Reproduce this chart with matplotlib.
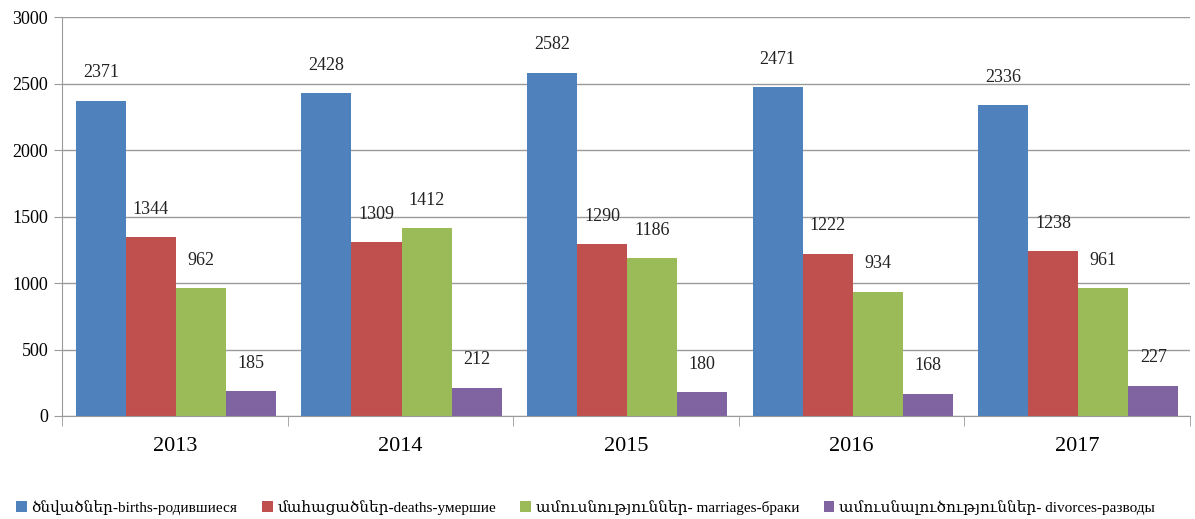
import numpy as np
import matplotlib
matplotlib.use("Agg")
from matplotlib import pyplot as plt
from matplotlib.ticker import FixedLocator

# data
years = ['2013', '2014', '2015', '2016', '2017']
births = [2371, 2428, 2582, 2471, 2336]
deaths = [1344, 1309, 1290, 1222, 1238]
marriages = [962, 1412, 1186, 934, 961]
divorces = [185, 212, 180, 168, 227]
labels = ['ծնվածներ-births-родившиеся',
          'մահացածներ-deaths-умершие',
          'ամուսնություններ- marriages-браки',
          'ամուսնալուծություններ- divorces-разводы']
colors = ['#4F81BD', '#C0504D', '#9BBB59', '#8064A2']

plt.rcParams['font.family'] = ['Liberation Serif', 'DejaVu Serif']

fig = plt.figure(figsize=(11.95, 5.19), dpi=100)
ax = fig.add_axes([0.0519, 0.1985, 0.9439, 0.7685])

x = np.arange(len(years))
w = 0.222
series = [births, deaths, marriages, divorces]
for i, vals in enumerate(series):
    pos = x + (i - 1.5) * w + 0.005
    ax.bar(pos, vals, w, color=colors[i], label=labels[i], zorder=2)
    for p, v in zip(pos, vals):
        ax.annotate(str(v), (p, v), xytext=(0, 14), textcoords='offset points',
                    ha='center', va='bottom', fontsize=13, color='#222222')

ax.set_xlim(-0.5, 4.5)
ax.set_ylim(0, 3000)
ax.set_yticks(range(0, 3001, 500))
ax.yaxis.grid(True, color='#9a9a9a', linewidth=1, zorder=0)
ax.set_axisbelow(True)

ax.set_xticks(x)
ax.set_xticklabels(years, fontsize=16)
ax.xaxis.set_minor_locator(FixedLocator(np.arange(-0.5, 5, 1)))
ax.tick_params(axis='x', which='major', length=0, pad=15)
ax.tick_params(axis='x', which='minor', length=7, color='#9a9a9a', direction='out')
ax.tick_params(axis='y', length=6, color='#9a9a9a', labelsize=13, pad=4)

for s in ['top', 'right']:
    ax.spines[s].set_visible(False)
for s in ['left', 'bottom']:
    ax.spines[s].set_color('#9a9a9a')

fig.legend(loc='lower center', bbox_to_anchor=(0.49, -0.018), ncol=4, frameon=False,
           fontsize=11, handlelength=0.7, handleheight=0.7, handletextpad=0.3,
           columnspacing=1.6)

fig.savefig('out.png', dpi=100)
